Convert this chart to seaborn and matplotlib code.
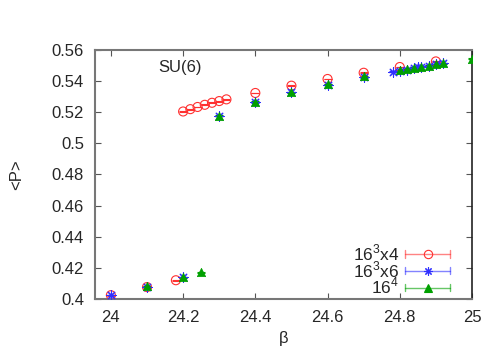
import numpy as np
import pandas as pd
import seaborn as sns
from matplotlib import pyplot as plt
from matplotlib.lines import Line2D
from matplotlib.legend_handler import HandlerBase

# 16^3 x 4
beta_nt4 = [24.0, 24.1, 24.18, 24.2, 24.22, 24.24, 24.26, 24.28, 24.3, 24.32,
            24.4, 24.5, 24.6, 24.7, 24.8, 24.9]
plaq_nt4 = [0.4024, 0.4076, 0.4120, 0.5205, 0.5220, 0.5234, 0.5248, 0.5261, 0.5272, 0.5283,
            0.5324, 0.5371, 0.5414, 0.5454, 0.5491, 0.5527]

# 16^3 x 6
beta_nt6 = [24.0, 24.1, 24.2, 24.3, 24.4, 24.5, 24.6, 24.7, 24.78, 24.8,
            24.82, 24.84, 24.85, 24.86, 24.88, 24.9, 24.92]
plaq_nt6 = [0.4025, 0.4078, 0.4138, 0.5176, 0.5265, 0.5328, 0.5378, 0.5425, 0.5460, 0.5466,
            0.5474, 0.5483, 0.5489, 0.5493, 0.5500, 0.5508, 0.5514]

# 16^4
beta_sym = [24.1, 24.2, 24.25, 24.3, 24.4, 24.5, 24.6, 24.7, 24.8,
            24.82, 24.84, 24.86, 24.88, 24.9, 24.92, 25.0]
plaq_sym = [0.4080, 0.4140, 0.4170, 0.5177, 0.5267, 0.5330, 0.5380, 0.5430, 0.5470,
            0.5476, 0.5485, 0.5491, 0.5500, 0.5508, 0.5515, 0.5544]

err = 0.0003

series = [
    ("16$^3$x4", beta_nt4, plaq_nt4, "#ff3030", "o"),
    ("16$^3$x6", beta_nt6, plaq_nt6, "#3030ff", (8, 2, 0)),
    ("16$^4$", beta_sym, plaq_sym, "#00a000", "^"),
]


class ErrKey(HandlerBase):
    """gnuplot style key sample: horizontal bar with end caps and a point in the middle"""

    def create_artists(self, legend, orig, xd, yd, width, height, fontsize, trans):
        color, marker = orig
        y = height / 2 - yd
        x0, x1 = -xd, -xd + width
        cap = height * 0.3
        arts = [
            Line2D([x0, x1], [y, y], color=color, lw=1, alpha=0.6),
            Line2D([x0, x0], [y - cap, y + cap], color=color, lw=1, alpha=0.6),
            Line2D([x1, x1], [y - cap, y + cap], color=color, lw=1, alpha=0.6),
            Line2D([(x0 + x1) / 2], [y], marker=marker, ls="none", color=color,
                   mfc=("none" if marker == "o" else color), mec=color,
                   ms=6, mew=0.8),
        ]
        for a in arts:
            a.set_transform(trans)
        return arts


sns.set_style("ticks")
plt.rcParams["font.family"] = ["Liberation Sans", "DejaVu Sans"]
plt.rcParams["mathtext.fontset"] = "custom"
plt.rcParams["mathtext.rm"] = "Liberation Sans"

fig, ax = plt.subplots(figsize=(5, 3.5), dpi=100)
fig.subplots_adjust(left=0.19, right=0.944, top=0.857, bottom=0.146)

handles = []
labels = []
for label, xs, ys, color, marker in series:
    df = pd.DataFrame({"beta": xs, "P": ys})
    ax.errorbar(df["beta"], df["P"], yerr=err, fmt="none", ecolor=color,
                elinewidth=0.8, capsize=3, capthick=0.8, zorder=2)
    if marker == "o":
        sns.scatterplot(data=df, x="beta", y="P", ax=ax, marker="o", s=42,
                        facecolor="none", edgecolor=color, linewidth=0.8, zorder=3)
    elif marker == "^":
        sns.scatterplot(data=df, x="beta", y="P", ax=ax, marker="^", s=36,
                        color=color, edgecolor=color, linewidth=0.5, zorder=4)
    else:
        sns.scatterplot(data=df, x="beta", y="P", ax=ax, marker=marker, s=45,
                        color=color, linewidth=0.8, zorder=3)
    handles.append((color, marker))
    labels.append(label)

ax.set_xlim(23.956, 25)
ax.set_ylim(0.4, 0.56)
ax.set_xticks([24, 24.2, 24.4, 24.6, 24.8, 25])
ax.set_xticklabels(["24", "24.2", "24.4", "24.6", "24.8", "25"])
ax.set_yticks(np.arange(0.40, 0.561, 0.02))
ax.set_yticklabels(["0.4", "0.42", "0.44", "0.46", "0.48", "0.5", "0.52", "0.54", "0.56"])
ax.tick_params(direction="in", top=True, right=True, labelsize=12, length=4,
               color="#555555", pad=8)
for s in ax.spines.values():
    s.set_color("#777777")
    s.set_linewidth(1.5)
ax.spines["right"].set_color("#222222")
ax.spines["right"].set_linewidth(1.2)

ax.set_xlabel("β", fontsize=12)
ax.set_ylabel("<P>", fontsize=12, labelpad=20)
ax.text(0.225, 0.93, "SU(6)", transform=ax.transAxes, fontsize=12,
        ha="center", va="center")

leg = ax.legend(handles, labels, handler_map={tuple: ErrKey()},
                loc="lower right", bbox_to_anchor=(0.975, -0.04), frameon=False,
                markerfirst=False, fontsize=12.5, handlelength=2.6,
                labelspacing=-0.22, handletextpad=0.35, borderaxespad=0.3)
for t in leg.get_texts():
    t.set_ha("right")
leg._legend_box.align = "right"

fig.savefig("out.png", dpi=100)
